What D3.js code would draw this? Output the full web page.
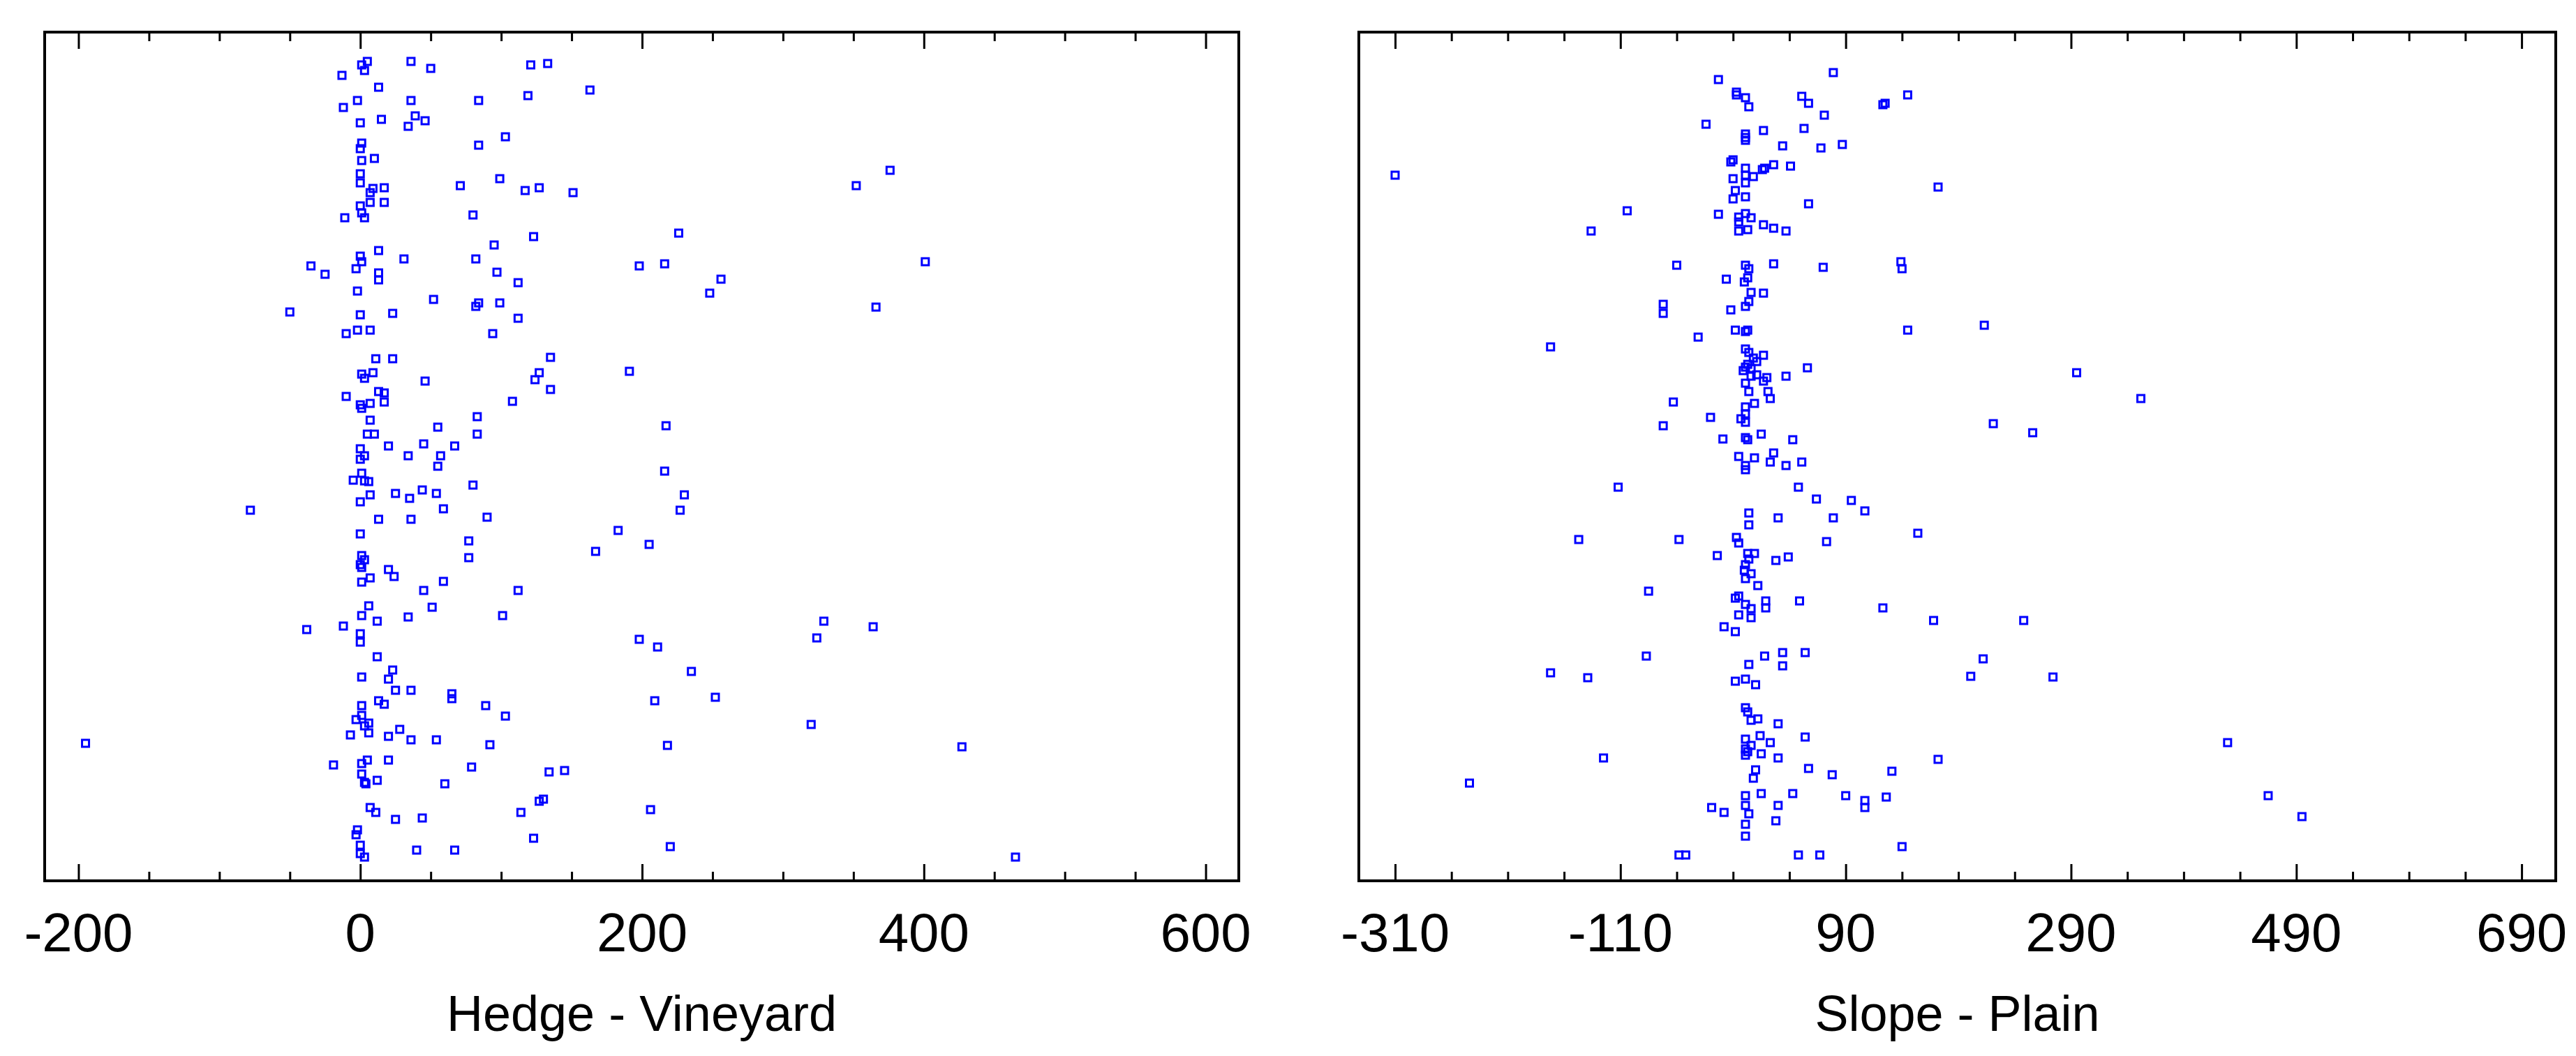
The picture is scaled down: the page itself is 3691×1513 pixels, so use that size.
<!DOCTYPE html>
<html><head><meta charset="utf-8">
<script src="https://cdn.jsdelivr.net/npm/d3@7"></script>
<style>body{margin:0;background:#fff}</style>
</head><body>
<script>
// Hedge - Vineyard: [difference, row index (46 = top row … 1262 bottom)]
const hedgeVineyard = [
[5,88],[36,88],[121,93],[133,91],[1,93],[50,98],[3,101],[-13,108],[13,125],[163,129],[119,137],[-2,144],[36,144],[84,144],[-12,154],[39,166],[15,171],[46,173],[0,176],[34,181],[103,196],[1,205],[84,208],[0,213],[10,227],[1,230],[0,249],[99,256],[0,262],[71,266],[9,270],[17,269],[127,269],[117,273],[151,276],[7,276],[7,290],[17,290],[0,295],[1,305],[-11,312],[3,312],[80,308],[123,339],[95,351],[13,359],[0,367],[31,371],[82,371],[1,375],[-35,381],[-3,385],[198,381],[-25,393],[13,391],[13,401],[97,390],[112,405],[-2,417],[52,429],[84,434],[82,439],[99,434],[-50,447],[0,451],[23,449],[112,456],[-2,473],[7,473],[-10,478],[94,478],[11,514],[23,514],[135,512],[1,536],[9,534],[191,532],[3,542],[127,534],[124,544],[46,546],[135,558],[13,561],[17,563],[-10,568],[0,580],[7,578],[17,576],[1,585],[108,575],[7,602],[83,597],[55,612],[5,622],[10,622],[83,622],[20,639],[45,636],[67,639],[0,643],[3,653],[34,653],[57,653],[0,658],[55,668],[1,678],
[-5,688],[3,689],[6,690],[80,695],[7,709],[25,707],[44,702],[54,707],[35,714],[0,719],[-78,731],[59,729],[13,744],[36,744],[90,741],[183,760],[0,765],[77,775],[205,780],[167,790],[1,796],[3,802],[0,809],[1,813],[77,799],[20,816],[24,826],[7,828],[1,834],[59,833],[45,846],[112,846],[6,868],[51,870],[1,882],[34,884],[12,890],[101,882],[-12,897],[-38,902],[0,908],[0,920],[198,916],[12,941],[23,960],[1,970],[20,973],[25,989],[36,989],[65,994],[65,1001],[13,1004],[17,1009],[1,1011],[89,1011],[103,1026],[1,1025],[-3,1031],[6,1036],[3,1040],[28,1045],[-7,1053],[6,1050],[20,1055],[36,1060],[54,1060],[92,1067],[-195,1065],[5,1089],[20,1089],[-19,1096],[1,1094],[79,1099],[134,1106],[145,1104],[1,1109],[12,1118],[3,1121],[4,1123],[60,1123],[127,1148],[130,1145],[7,1157],[11,1164],[114,1164],[25,1174],[44,1172],[206,1160],[-2,1189],[-3,1196],[123,1201],[0,1211],[0,1223],[40,1218],[67,1218],[3,1228],
[376,244],[352,266],[226,334],[216,378],[401,375],[256,400],[248,420],[366,440],[217,610],[216,675],[230,709],[227,731],[329,890],[364,898],[324,914],[211,927],[235,962],[209,1004],[252,999],[320,1038],[218,1068],[427,1070],[220,1213],[465,1228]
];
// Slope - Plain
const slopePlain = [
[79,104],[-23,114],[-7,132],[-7,136],[1,140],[51,138],[57,148],[4,153],[123,150],[125,148],[145,136],[71,165],[-34,178],[17,187],[53,184],[1,192],[1,197],[1,201],[34,209],[68,212],[87,207],[-10,229],[-12,232],[26,236],[41,238],[18,241],[16,243],[1,241],[-310,251],[1,251],[8,253],[-10,256],[1,262],[172,268],[-8,273],[1,282],[-10,285],[57,292],[-104,302],[-23,307],[1,306],[6,312],[-5,311],[-5,318],[17,322],[26,327],[37,331],[-5,331],[3,329],[-136,331],[-60,380],[1,380],[4,385],[26,378],[70,383],[139,375],[140,385],[-16,400],[3,398],[0,404],[6,419],[17,420],[4,432],[1,439],[-72,436],[-72,449],[-12,444],[145,473],[213,466],[-8,473],[1,475],[3,473],[-41,483],[-172,497],[1,500],[4,505],[17,509],[8,513],[11,518],[3,522],[1,526],[-1,531],[6,528],[56,527],[11,537],[6,539],[20,541],[17,546],[37,539],[1,549],[4,561],[21,561],[23,571],[-63,576],[9,578],[1,583],[1,593],[-3,600],[1,605],[-30,598],[-72,610],[15,622],[-19,629],[1,627],[3,630],[43,630],[-5,654],[9,656],[26,649],[23,662],[37,667],[51,662],[1,667],[1,673],
[-112,698],[48,698],[64,715],[95,717],[107,732],[4,735],[30,742],[79,742],[4,752],[154,764],[-147,773],[-58,773],[-7,770],[-5,778],[73,776],[-24,796],[3,793],[9,793],[4,801],[28,803],[39,798],[1,809],[0,817],[6,822],[1,829],[12,839],[-85,847],[-8,857],[-5,854],[19,861],[49,861],[1,866],[6,872],[19,871],[123,871],[-5,881],[6,885],[168,889],[-18,898],[-8,905],[-87,940],[18,940],[34,935],[54,935],[212,944],[4,952],[34,954],[-172,964],[-139,971],[-8,976],[1,973],[10,981],[201,969],[1,1014],[3,1020],[6,1032],[12,1030],[30,1037],[1,1059],[14,1054],[23,1064],[54,1056],[6,1068],[1,1073],[3,1077],[1,1082],[15,1080],[30,1086],[-125,1086],[172,1088],[10,1103],[8,1115],[57,1101],[78,1110],[131,1105],[-244,1122],[1,1140],[15,1137],[43,1137],[90,1140],[107,1147],[126,1142],[107,1157],[-29,1157],[-18,1164],[1,1154],[30,1154],[4,1166],[1,1181],[28,1176],[1,1198],[140,1213],[-58,1225],[-52,1225],[48,1225],[67,1225],
[295,534],[352,571],[221,607],[256,620],[248,889],[274,970],[429,1064],[465,1140],[495,1170]
];
const hvTicks = [-200, 0, 200, 400, 600];
const spTicks = [-310, -110, 90, 290, 490, 690];

const W = 3691, H = 1513;
const svg = d3.select("body").append("svg").attr("width", W).attr("height", H);
const plotTop = 46, plotBottom = 1262;
const y = d3.scaleLinear().domain([46, 1262]).range([plotTop, plotBottom]);

function panel(data, left, right, domain, majors, title) {
  const x = d3.scaleLinear().domain(domain).range([left, right]);
  const g = svg.append("g");
  const minors = d3.range(majors[0], majors[majors.length - 1] + 1, 50).filter(v => !majors.includes(v));
  const tk = (vals, len) => {
    g.append("g").attr("transform", `translate(0,${plotBottom})`)
      .call(d3.axisBottom(x).tickValues(vals).tickSize(-len).tickFormat(""))
      .call(s => { s.select(".domain").remove(); s.selectAll("line").attr("stroke", "#000").attr("stroke-width", 3); });
    g.append("g").attr("transform", `translate(0,${plotTop})`)
      .call(d3.axisTop(x).tickValues(vals).tickSize(-len).tickFormat(""))
      .call(s => { s.select(".domain").remove(); s.selectAll("line").attr("stroke", "#000").attr("stroke-width", 3); });
  };
  tk(majors, 24); tk(minors, 13);
  g.append("rect").attr("x", left).attr("y", plotTop).attr("width", right - left).attr("height", plotBottom - plotTop)
    .attr("fill", "none").attr("stroke", "#000").attr("stroke-width", 4);
  g.selectAll("rect.pt").data(data).join("rect").attr("class", "pt")
    .attr("x", d => x(d[0]) - 5).attr("y", d => y(d[1]) - 5).attr("width", 10).attr("height", 10)
    .attr("fill", "none").attr("stroke", "#0000ff").attr("stroke-width", 3);
  g.selectAll("text.tl").data(majors).join("text").attr("class", "tl")
    .attr("x", d => x(d)).attr("y", 1363).attr("text-anchor", "middle")
    .attr("font-family", "Liberation Sans, Arial, sans-serif").attr("font-size", 78).attr("fill", "#000")
    .text(d => d);
  g.append("text").attr("x", (left + right) / 2).attr("y", 1477).attr("text-anchor", "middle")
    .attr("font-family", "Liberation Sans, Arial, sans-serif").attr("font-size", 72).attr("fill", "#000")
    .text(title);
}
panel(hedgeVineyard, 64, 1775, [-224, 623.5], hvTicks, "Hedge - Vineyard");
panel(slopePlain, 1947, 3662, [-342.2, 720.3], spTicks, "Slope - Plain");
</script>
</body></html>
